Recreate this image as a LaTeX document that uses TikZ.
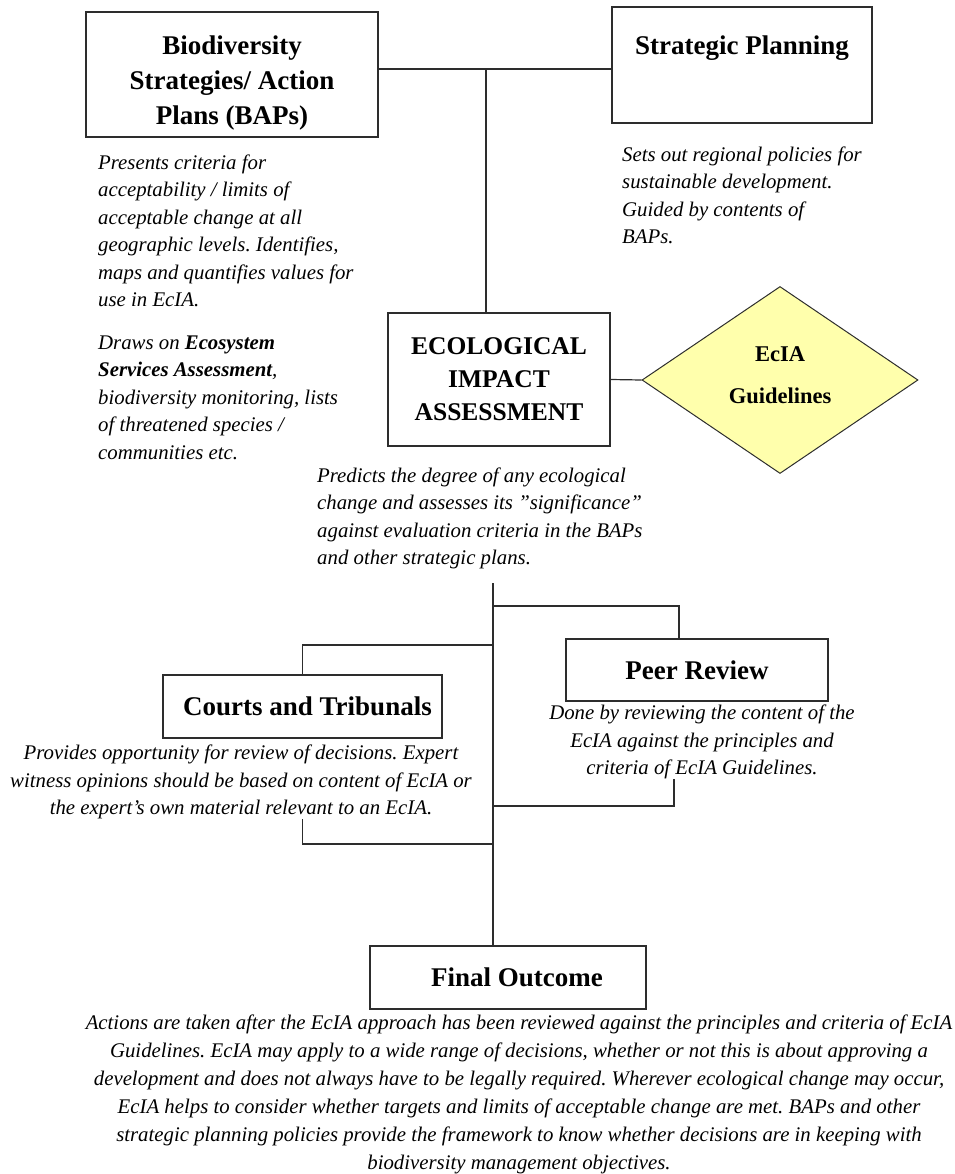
\documentclass[tikz,border=0pt]{standalone}
\usepackage{fontspec}
\setmainfont{Liberation Serif}
\usepackage{tikz}
\usetikzlibrary{shapes.geometric,positioning,calc}
\definecolor{EcLine}{RGB}{45,45,45}
\definecolor{EcYellow}{RGB}{255,255,172}
\tikzset{
  hbox/.style={draw=EcLine,line width=1.3pt,fill=white,align=center,inner sep=0pt,font=\fontsize{27}{35}\selectfont\bfseries},
  note/.style={inner sep=0pt,font=\fontsize{20.8}{27.5}\selectfont\itshape},
  gdia/.style={diamond,draw=EcLine,line width=1pt,fill=EcYellow,align=center,inner sep=0pt,font=\fontsize{22.5}{26}\selectfont\bfseries},
  link/.style={EcLine,line width=1.2pt},
}
\frenchspacing
\begin{document}
\begin{tikzpicture}[x=1pt,y=-1pt]
  \useasboundingbox (0,0) rectangle (954,1174);
  \node[hbox,minimum width=292pt,minimum height=125pt] (baps) at (232,74.5) {\rule{0pt}{35pt}Biodiversity\\Strategies/ Action\\Plans (BAPs)};
  \node[hbox,minimum width=260pt,text height=48pt,text depth=68pt] (plan) at (742,65) {Strategic Planning};
  \node[hbox,minimum width=222pt,minimum height=133pt,font=\fontsize{25.5}{33}\selectfont\bfseries] (ecia) at (499,379.5) {ECOLOGICAL\\IMPACT\\ASSESSMENT};
  \node[gdia,minimum width=276pt,minimum height=187pt] (guide) at (780,380) {EcIA\\[16pt]Guidelines\rule[-10pt]{0pt}{0pt}};
  \node[hbox,minimum width=279pt,minimum height=63pt] (court) at (302.5,706.5) {\hspace*{10pt}Courts and Tribunals};
  \node[hbox,minimum width=262pt,minimum height=62pt] (peer) at (697,670) {Peer Review};
  \node[hbox,minimum width=276pt,minimum height=63pt] (final) at (508,977.5) {\hspace*{18pt}Final Outcome};
  \node[note,anchor=west,align=left] (bapnote) at (98,307) {Presents criteria for\\acceptability / limits of\\acceptable change at all\\geographic levels. Identifies,\\maps and quantifies values for\\use in EcIA.\\[15pt]Draws on \textbf{Ecosystem}\\\textbf{Services Assessment},\\biodiversity monitoring, lists\\of threatened species /\\communities etc.};
  \node[note,anchor=west,align=left] (plannote) at (622,195.5) {Sets out regional policies for\\sustainable development.\\Guided by contents of\\BAPs.};
  \node[note,anchor=west,align=left] (ecianote) at (317,518.5) {Predicts the degree of any ecological\\change and assesses its "significance"\\against evaluation criteria in the BAPs\\and other strategic plans.};
  \node[note,align=center] (courtnote) at (241,782) {Provides opportunity for review of decisions. Expert\\witness opinions should be based on content of EcIA or\\the expert's own material relevant to an EcIA.};
  \node[note,align=center] (peernote) at (702,742) {Done by reviewing the content of the\\EcIA against the principles and\\criteria of EcIA Guidelines.};
  \node[note,align=center,font=\fontsize{20.8}{28}\selectfont\itshape] (finalnote) at (519,1094) {Actions are taken after the EcIA approach has been reviewed against the principles and criteria of EcIA\\Guidelines. EcIA may apply to a wide range of decisions, whether or not this is about approving a\\development and does not always have to be legally required. Wherever ecological change may occur,\\EcIA helps to consider whether targets and limits of acceptable change are met. BAPs and other\\strategic planning policies provide the framework to know whether decisions are in keeping with\\biodiversity management objectives.};
  \coordinate (top) at (486,69);
  \coordinate (trunk) at (493,583);
  \coordinate (j1) at (493,606);
  \coordinate (j2) at (493,645);
  \coordinate (j3) at (493,806);
  \coordinate (j4) at (493,844);
  \draw[link] (top -| baps.east) -- (top -| plan.west);
  \draw[link] (top) -- (top |- ecia.north);
  \draw[link] (ecia.east) -- (guide.west);
  \draw[link] (trunk) -- (trunk |- final.north);
  \draw[link] (j1) -| ([xshift=-18pt]peer.north);
  \draw[link] (j2) -| (court.north);
  \draw[link] ([xshift=-28pt]peernote.south) |- (j3);
  \draw[link] (court.south |- courtnote.south) |- (j4);
\end{tikzpicture}
\end{document}
